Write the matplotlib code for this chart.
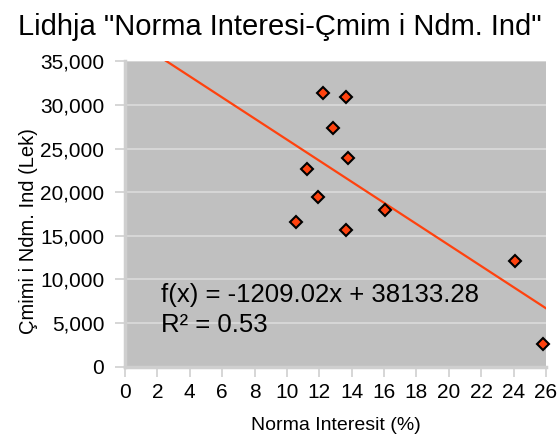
import matplotlib.pyplot as plt
import numpy as np

plt.rcParams['font.family'] = ['Liberation Sans', 'DejaVu Sans']

# interest rate (%) vs. price (Lek)
norma = [12.20, 13.62, 12.84, 13.75, 11.24, 11.95, 16.04, 10.56, 13.65, 24.06, 25.83]
cmimi = [31370, 30980, 27360, 23950, 22650, 19440, 17950, 16640, 15690, 12160, 2570]

# trend line as printed on the chart
slope = -1209.02
intercept = 38133.28
r2 = 0.53

orange = '#ff420e'

fig = plt.figure(figsize=(5.59, 4.38), dpi=100)
ax = fig.add_axes([0.2236, 0.1628, 0.7531, 0.6968])
ax.set_facecolor('#c0c0c0')

ax.set_xlim(0, 26)
ax.set_ylim(0, 35000)
ax.set_xticks(np.arange(0, 27, 2))
ax.set_yticks(np.arange(0, 35001, 5000))
ax.yaxis.set_major_formatter(plt.FuncFormatter(lambda v, p: f'{int(v):,}'))
ax.grid(axis='y', color='#d6d6d6', linewidth=1.5)
ax.set_axisbelow(True)

for side in ['top', 'right']:
    ax.spines[side].set_visible(False)
for side in ['left', 'bottom']:
    ax.spines[side].set_color('#cfcfcf')
    ax.spines[side].set_linewidth(2.5)
ax.tick_params(colors='#cfcfcf', labelcolor='black', labelsize=15, length=7, width=1.2)
ax.tick_params(axis='x', pad=5)
ax.tick_params(axis='y', pad=8)

xs = np.linspace(0, 26, 100)
ax.plot(xs, slope * xs + intercept, color=orange, linewidth=1.6)
ax.plot(norma, cmimi, 'D', markersize=6.5, markerfacecolor=orange,
        markeredgecolor='black', markeredgewidth=1.5, clip_on=False)

ax.text(2.25, 8230, f'f(x) = {slope:.2f}x + {intercept:.2f}', fontsize=18.5, va='center')
ax.text(2.25, 4730, f'R² = {r2:.2f}', fontsize=18.5, va='center')

ax.set_xlabel('Norma Interesit (%)', fontsize=14)
ax.xaxis.set_label_coords(0.5, -0.166)
ax.set_ylabel('Çmimi i Ndm. Ind (Lek)', fontsize=14.5)
ax.yaxis.set_label_coords(-0.206, 0.446)
fig.suptitle('Lidhja "Norma Interesi-Çmim i Ndm. Ind"', fontsize=21, x=0.5, y=0.971)

plt.savefig('out.png', dpi=100)
